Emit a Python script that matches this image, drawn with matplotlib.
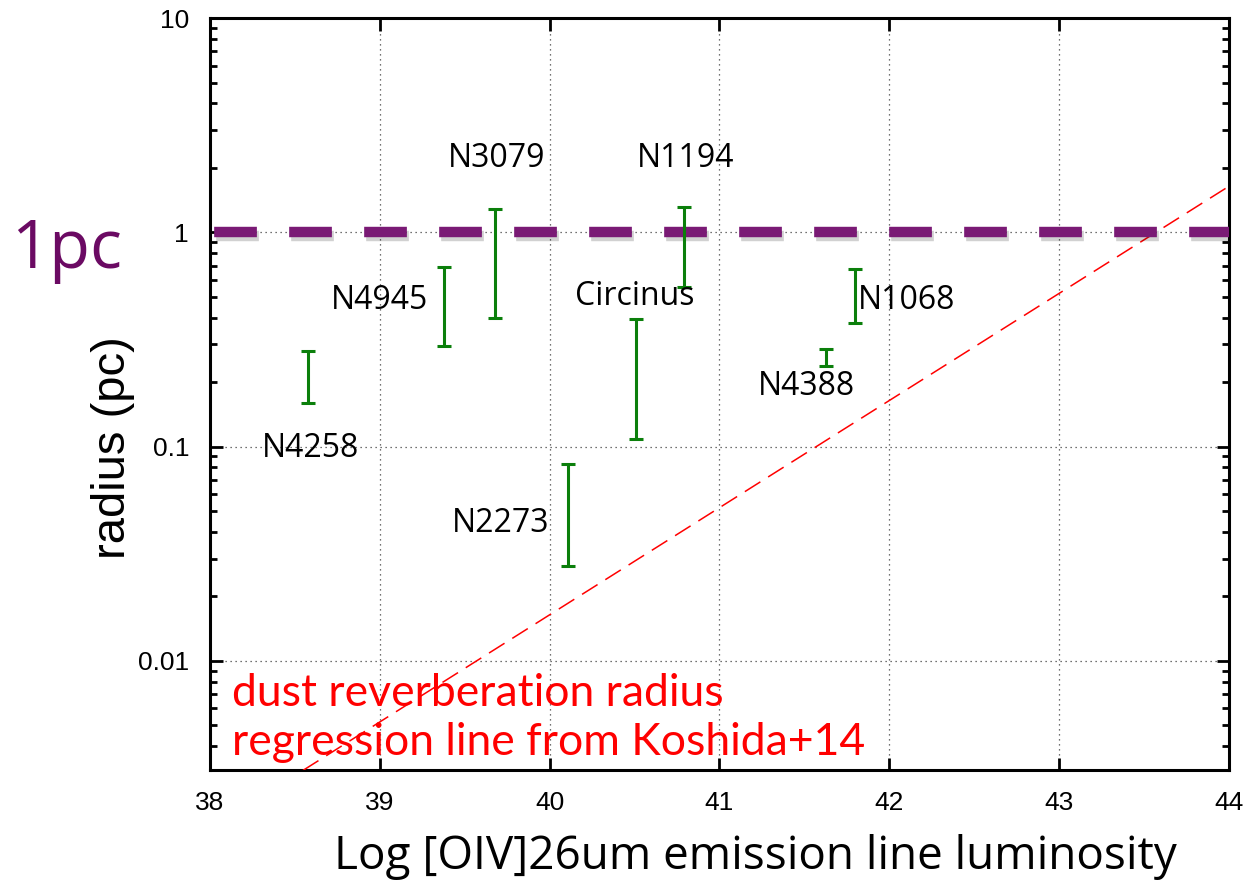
import matplotlib.pyplot as plt
import matplotlib.patheffects as pe
from matplotlib.ticker import FixedLocator, FixedFormatter, LogLocator, NullFormatter
import numpy as np

# galaxies: log [OIV] luminosity and radius range (pc)
names = ['N4258', 'N4945', 'N3079', 'N2273', 'Circinus', 'N1194', 'N4388', 'N1068']
lum = [38.58, 39.38, 39.68, 40.11, 40.51, 40.79, 41.63, 41.80]
r_low = [0.159, 0.296, 0.397, 0.0278, 0.109, 0.553, 0.237, 0.376]
r_high = [0.278, 0.69, 1.28, 0.083, 0.395, 1.31, 0.284, 0.671]

# label positions (data coords)
label_x = [38.59, 39.0, 39.69, 39.71, 40.50, 40.80, 41.51, 42.10]
label_y = [0.098, 0.48, 2.22, 0.044, 0.50, 2.22, 0.19, 0.48]

# Koshida+14 regression: log r = 0.5 * (L - L0)
reg_slope = 0.5
reg_l0 = 43.57

fig = plt.figure(figsize=(12.57, 8.88), dpi=100)
ax = fig.add_axes([0.167, 0.133, 0.8107, 0.8467])

ax.set_yscale('log')
ax.set_xlim(38, 44)
ax.set_ylim(0.0031, 10)

# error bars
mid = [(a + b) / 2 for a, b in zip(r_low, r_high)]
yerr = [[m - a for m, a in zip(mid, r_low)], [b - m for m, b in zip(mid, r_high)]]
ax.errorbar(lum, mid, yerr=yerr, fmt='none', ecolor='#0b7f0b', elinewidth=2.2,
            capsize=5, capthick=2.2, zorder=4)

for n, x, y in zip(names, label_x, label_y):
    ax.text(x, y, n, fontsize=23, family='Open Sans', ha='center', va='center', zorder=5)

# regression line
lx = np.array([38, 44])
ax.plot(lx, 10 ** (reg_slope * (lx - reg_l0)), color='red', lw=1.1,
        dashes=(12, 6), zorder=3)

# 1 pc line
ax.axhline(1, color='#7a1a75', lw=7.5, ls=(6.8, (4.1, 3.1)), zorder=3,
           path_effects=[pe.SimpleLineShadow(offset=(1.5, -2.5), alpha=0.18,
                                             shadow_color='black'),
                         pe.Normal()])

ax.text(38.13, 0.0054, 'dust reverberation radius\nregression line from Koshida+14',
        color='red', fontsize=32, family='Lato', va='center', ha='left',
        linespacing=1.25, zorder=5)

fig.text(0.053, 0.718, '1pc', color='#6b0a63', fontsize=48, family='Open Sans',
         ha='center', va='center')

# axes styling
ax.xaxis.set_major_locator(FixedLocator([38, 39, 40, 41, 42, 43, 44]))
ax.yaxis.set_major_locator(FixedLocator([0.01, 0.1, 1, 10]))
ax.yaxis.set_major_formatter(FixedFormatter(['0.01', '0.1', '1', '10']))
ax.yaxis.set_minor_locator(LogLocator(base=10, subs=np.arange(2, 10)))
ax.yaxis.set_minor_formatter(NullFormatter())
ax.tick_params(which='both', direction='in', top=True, right=True, width=2)
ax.tick_params(which='major', length=9, labelsize=19, pad=15)
ax.tick_params(which='minor', length=5)
for lab in ax.get_xticklabels() + ax.get_yticklabels():
    lab.set_family('Liberation Sans')
for s in ax.spines.values():
    s.set_linewidth(2.2)

ax.grid(True, which='major', color='#444444', ls=(0, (1, 3)), lw=0.9)

ax.set_xlabel('Log [OIV]26um emission line luminosity', fontsize=33,
              family='Open Sans', labelpad=14)
ax.set_ylabel('radius (pc)', fontsize=34, family='Liberation Sans', labelpad=2)
ax.xaxis.label.set_x(0.535)
ax.yaxis.label.set_y(0.428)

fig.savefig('out.png', dpi=100)
